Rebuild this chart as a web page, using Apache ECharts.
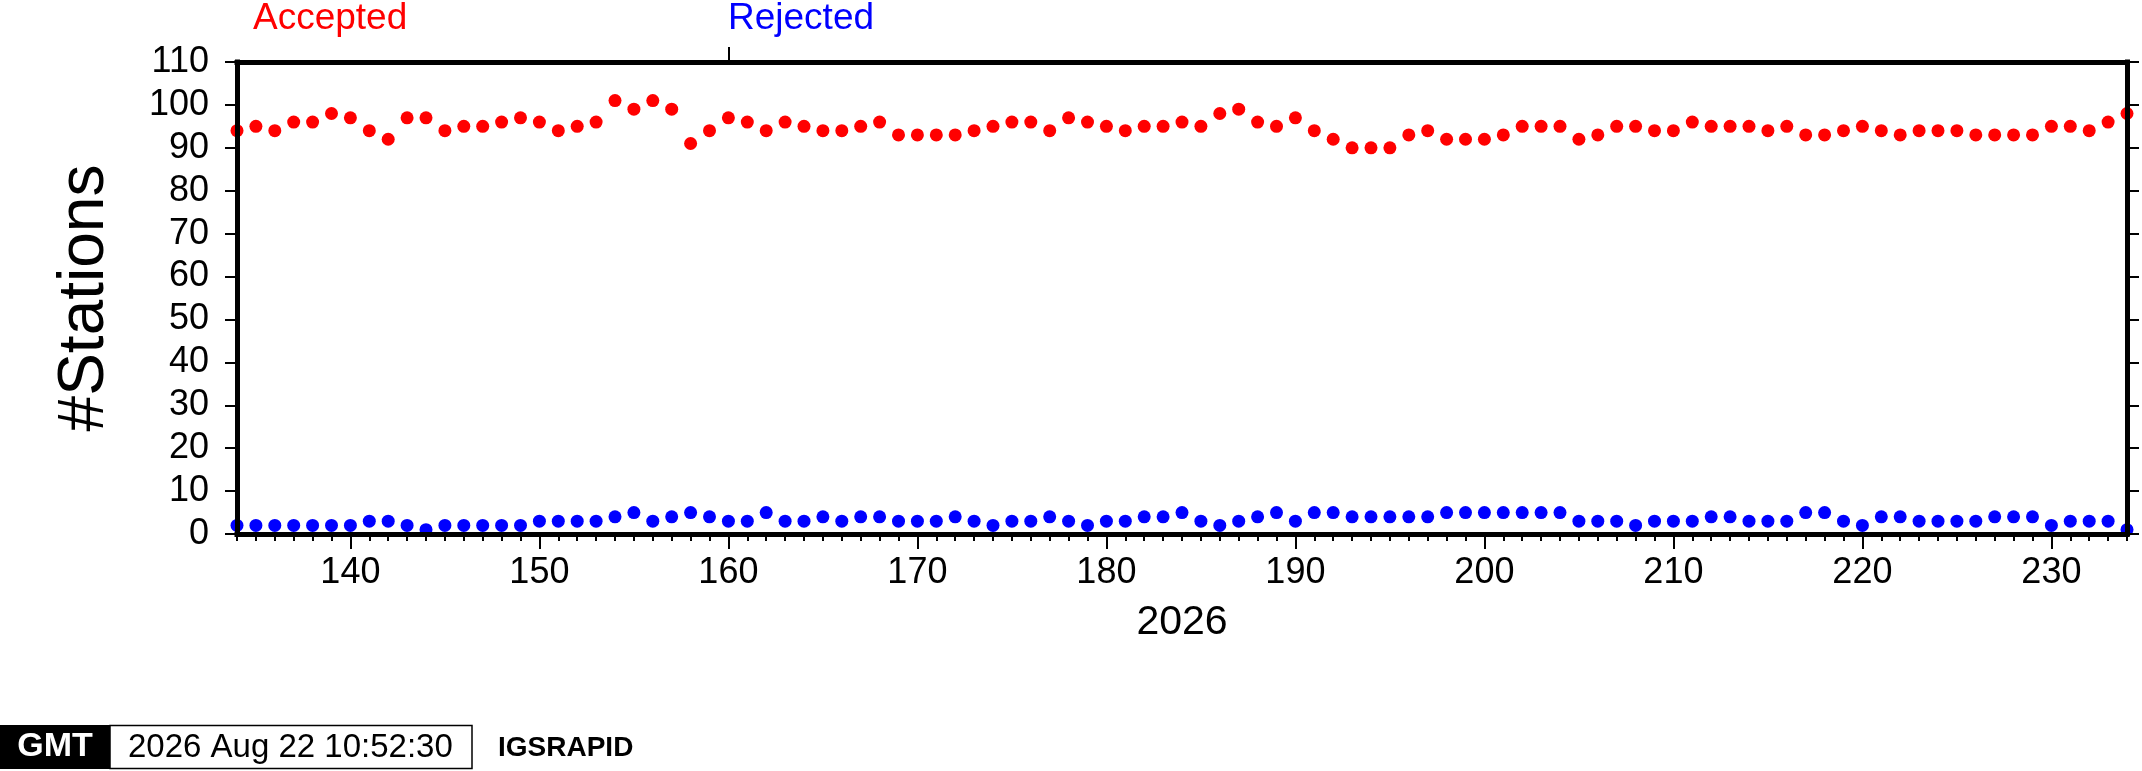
<!DOCTYPE html>
<html>
<head>
<meta charset="utf-8">
<script src="https://cdn.jsdelivr.net/npm/echarts@6/dist/echarts.min.js"></script>
<style>
html,body{margin:0;padding:0;background:#fff;}
#chart{width:2142px;height:771px;}
</style>
</head>
<body>
<div id="chart"></div>
<script>
// ---- data ----
const days = [];
for (let d = 134; d <= 234; d++) days.push(d);

const accepted = [
  94, 95, 94, 96, 96, 98, 97, 94, 92, 97, 97, 94, 95, 95, 96, 97, 96, 94, 95, 96, 101, 99, 101, 99, 91, 94,
  97, 96, 94, 96, 95, 94, 94, 95, 96, 93, 93, 93, 93, 94, 95, 96, 96, 94, 97, 96, 95, 94, 95, 95, 96, 95, 98, 99, 96, 95, 97,
  94, 92, 90, 90, 90, 93, 94, 92, 92, 92, 93, 95, 95, 95, 92, 93, 95, 95, 94, 94, 96, 95, 95, 95, 94, 95, 93, 93, 94, 95, 94, 93,
  94, 94, 94, 93, 93, 93, 93, 95, 95, 94, 96, 98
];
const rejected = [
  2, 2, 2, 2, 2, 2, 2, 3, 3, 2, 1, 2, 2, 2, 2, 2, 3, 3, 3, 3, 4, 5, 3, 4, 5, 4,
  3, 3, 5, 3, 3, 4, 3, 4, 4, 3, 3, 3, 4, 3, 2, 3, 3, 4, 3, 2, 3, 3, 4, 4, 5, 3, 2, 3, 4, 5, 3,
  5, 5, 4, 4, 4, 4, 4, 5, 5, 5, 5, 5, 5, 5, 3, 3, 3, 2, 3, 3, 3, 4, 4, 3, 3, 3, 5, 5, 3, 2, 4, 4,
  3, 3, 3, 3, 4, 4, 4, 2, 3, 3, 3, 1
];
const xTickLabels = [140, 150, 160, 170, 180, 190, 200, 210, 220, 230];
const topTicks = [160];
const yTickLabels = [0, 10, 20, 30, 40, 50, 60, 70, 80, 90, 100, 110];
const seriesNames = ['Accepted', 'Rejected'];
const yearLabel = '2026';
const yLabel = '#Stations';
const stampText = '2026 Aug 22 10:52:30';
const stampTag = 'IGSRAPID';

// ---- chart ----
const FONT = '"Liberation Sans", Arial, Helvetica, sans-serif';
const chart = echarts.init(document.getElementById('chart'), null, {renderer: 'canvas'});

const lineBlack = {color: '#000', width: 5, cap: 'square'};
const tickStyle = {color: '#000', width: 2};

const option = {
  backgroundColor: '#fff',
  animation: false,
  grid: {left: 237, top: 62, width: 1890, height: 472, containLabel: false},
  xAxis: [
    {
      type: 'value', min: 134, max: 234, interval: 1, position: 'bottom', z: 5,
      axisLine: {show: true, lineStyle: lineBlack},
      axisTick: {show: true, length: 7, lineStyle: tickStyle},
      axisLabel: {show: false},
      splitLine: {show: false}
    },
    {
      type: 'value', min: 134, max: 234, position: 'bottom', z: 5,
      axisLine: {show: false},
      axisTick: {show: true, length: 15, customValues: xTickLabels, lineStyle: tickStyle},
      axisLabel: {show: true, customValues: xTickLabels, fontSize: 36, margin: 21,
                  color: '#000', fontFamily: FONT},
      splitLine: {show: false}
    },
    {
      type: 'value', min: 134, max: 234, position: 'top', z: 5,
      axisLine: {show: true, lineStyle: lineBlack},
      axisTick: {show: true, length: 15, customValues: topTicks, lineStyle: tickStyle},
      axisLabel: {show: false},
      splitLine: {show: false}
    }
  ],
  yAxis: [
    {
      type: 'value', min: 0, max: 110, interval: 10, position: 'left', z: 5,
      axisLine: {show: true, lineStyle: lineBlack},
      axisTick: {show: true, length: 12, lineStyle: tickStyle},
      axisLabel: {show: true, fontSize: 36, margin: 28, color: '#000', fontFamily: FONT,
                  customValues: yTickLabels},
      splitLine: {show: false}
    },
    {
      type: 'value', min: 0, max: 110, interval: 10, position: 'right', z: 5,
      axisLine: {show: true, lineStyle: lineBlack},
      axisTick: {show: true, length: 12, lineStyle: tickStyle},
      axisLabel: {show: false},
      splitLine: {show: false}
    }
  ],
  series: [
    {
      name: seriesNames[0], type: 'scatter', xAxisIndex: 0, yAxisIndex: 0,
      symbol: 'circle', symbolSize: 13, itemStyle: {color: '#ff0000', opacity: 1},
      data: days.map((d, i) => [d, accepted[i]]), z: 2
    },
    {
      name: seriesNames[1], type: 'scatter', xAxisIndex: 0, yAxisIndex: 0,
      symbol: 'circle', symbolSize: 13, itemStyle: {color: '#0000ff', opacity: 1},
      data: days.map((d, i) => [d, rejected[i]]), z: 2
    }
  ],
  graphic: [
    {type: 'text', left: 253, top: 0, style: {text: seriesNames[0], fill: '#ff0000', font: '37px ' + FONT}},
    {type: 'text', left: 728, top: 0, style: {text: seriesNames[1], fill: '#0000ff', font: '37px ' + FONT}},
    {type: 'text', x: 1182, y: 623, style: {text: yearLabel, fill: '#000', font: '41px ' + FONT,
      textAlign: 'center', textVerticalAlign: 'middle'}},
    {type: 'text', x: 85, y: 298, rotation: Math.PI / 2, style: {text: yLabel, fill: '#000', font: '64px ' + FONT,
      textAlign: 'center', textVerticalAlign: 'middle'}},
    // footer stamp
    {type: 'rect', shape: {x: 0, y: 725, width: 110, height: 44}, style: {fill: '#000'}},
    {type: 'text', x: 55, y: 747, style: {text: 'GMT', fill: '#fff', font: 'bold 34px ' + FONT,
      textAlign: 'center', textVerticalAlign: 'middle'}},
    {type: 'rect', shape: {x: 110, y: 725.5, width: 362, height: 43}, style: {fill: '#fff', stroke: '#000', lineWidth: 1.5}},
    {type: 'text', x: 128, y: 748, style: {text: stampText, fill: '#000', font: '33px ' + FONT,
      textAlign: 'left', textVerticalAlign: 'middle'}},
    {type: 'text', x: 498, y: 748, style: {text: stampTag, fill: '#000', font: 'bold 28px ' + FONT,
      textAlign: 'left', textVerticalAlign: 'middle'}}
  ]
};
chart.setOption(option);
</script>
</body>
</html>
